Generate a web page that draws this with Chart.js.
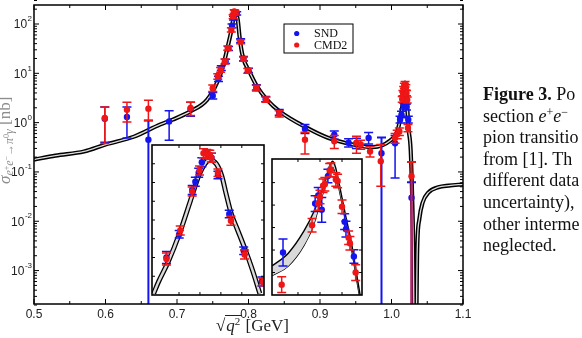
<!DOCTYPE html>
<html>
<head>
<meta charset="utf-8">
<script src="https://cdn.jsdelivr.net/npm/chart.js@4.4.1/dist/chart.umd.min.js"></script>
<style>
  body { margin: 0; width: 582px; height: 338px; overflow: hidden; background: #fff; position: relative; }
  canvas { position: absolute; }
  #main { left: 0; top: 0; }
  #inset1 { left: 148px; top: 141px; }
  #inset2 { left: 268px; top: 155px; }
  #ytitle {
    position: absolute; left: -3px; top: 184px; transform-origin: 0 0; transform: rotate(-90deg);
    font: 17px "Liberation Serif", serif; color: #8c8c8c; white-space: nowrap; line-height: 15px;
  }
  #ytitle sub { font-size: 12px; vertical-align: -3px; line-height: 0; }
  #ytitle sup { font-size: 8px; vertical-align: 4px; line-height: 0; }
  #xtitle {
    position: absolute; left: 216px; top: 317px; font: 17px "Liberation Serif", serif; color: #222;
    white-space: nowrap; line-height: 18px;
  }
  #xtitle .rad { border-top: 1px solid #222; padding: 0 1px; }
  #xtitle sup { font-size: 11px; vertical-align: 6px; line-height: 0; }
  #caption {
    position: absolute; left: 483px; top: 84px; font: 18px "Liberation Serif", serif; color: #111;
    line-height: 21.6px; white-space: nowrap;
  }
  #caption sup { font-size: 12px; vertical-align: 6px; line-height: 0; }
</style>
</head>
<body>
<canvas id="main" width="582" height="338"></canvas>
<canvas id="inset1" width="120" height="158"></canvas>
<canvas id="inset2" width="98" height="144"></canvas>
<div id="ytitle"><i>σ</i><sub><i>e</i><sup>+</sup><i>e</i><sup>−</sup>→<i>π</i><sup>0</sup><i>γ</i></sub> [nb]</div>
<div id="xtitle">√<span class="rad"><i>q</i><sup>2</sup></span> [GeV]</div>
<div id="caption"><b>Figure 3.</b> Po<br>section <i>e</i><sup>+</sup><i>e</i><sup>−</sup><br>pion transitio<br>from [1]. Th<br>different data<br>uncertainty),<br>other interme<br>neglected.</div>
<script>
// axis labels
const xTickLabels = ["0.5", "0.6", "0.7", "0.8", "0.9", "1.0", "1.1"];
const yTickExponents = [-3, -2, -1, 0, 1, 2];

// model curve (main panel)
const curveX = [0.50, 0.53, 0.57, 0.60, 0.64, 0.676, 0.694, 0.718, 0.742, 0.756, 0.764, 0.771, 0.777, 0.780,
  0.782, 0.785, 0.788, 0.792, 0.802, 0.812, 0.826, 0.844, 0.882, 0.91, 0.946, 0.974, 0.998, 1.008, 1.012,
  1.015, 1.018, 1.019, 1.0212, 1.0235, 1.0268, 1.029, 1.0305, 1.033, 1.036, 1.0389, 1.0436, 1.0515, 1.0655,
  1.08, 1.10];
const curveY = [0.178, 0.215, 0.26, 0.36, 0.52, 0.91, 1.15, 1.67, 2.9, 6.5, 13.5, 35, 88, 167,
  178, 121, 48, 22, 10.3, 5.4, 2.9, 1.67, 0.78, 0.5, 0.36, 0.32, 0.43, 0.66, 1.15,
  2.1, 4.7, 6.5, 3.4, 0.84, 0.28, 0.028, 0.0027, 0.000001, 0.0027, 0.011, 0.024, 0.038, 0.049,
  0.053, 0.056];

// SND (main panel)
const sndX = [0.599, 0.630, 0.660, 0.689, 0.719, 0.750, 0.758, 0.762, 0.768, 0.772, 0.777, 0.779, 0.7835,
  0.789, 0.793, 0.800, 0.811, 0.824, 0.843, 0.879, 0.920, 0.940, 0.951, 0.968, 0.986, 1.005, 1.012, 1.014,
  1.017, 1.019, 1.021, 1.0235, 1.028];
const sndY = [1.20, 1.30, 0.45, 1.06, 1.90, 3.5, 7.7, 12.8, 17.5, 32, 92, 132, 165,
  46, 20, 11.5, 5.2, 3.0, 1.62, 0.745, 0.57, 0.39, 0.38, 0.49, 0.24, 0.38, 1.15, 1.45,
  2.2, 2.7, 2.1, 1.15, 0.030];
const sndLo = [0.40, 0.49, 0, 0.44, 1.35, 3.0, 6.8, 11.4, 15.8, 29, 84, 121, 152,
  42, 18, 10.4, 4.6, 2.65, 1.42, 0.60, 0.46, 0.32, 0.30, 0.37, 0, 0.075, 0.98, 1.25,
  1.9, 2.35, 1.8, 0.98, 0];
const sndHi = [2.08, 2.08, 1.11, 1.75, 2.6, 4.1, 8.7, 14.3, 19.3, 35, 100, 143, 178,
  50, 22, 12.7, 5.9, 3.4, 1.85, 0.92, 0.68, 0.47, 0.48, 0.63, 0.50, 0.55, 1.35, 1.7,
  2.5, 3.1, 2.4, 1.35, 0.062];

// CMD2 (main panel)
const cmdX = [0.599, 0.630, 0.660, 0.719, 0.750, 0.757, 0.761, 0.767, 0.771, 0.776, 0.7785, 0.7800, 0.7808,
  0.7815, 0.789, 0.793, 0.799, 0.811, 0.8245, 0.843, 0.879, 0.920, 0.951, 0.957, 0.970, 0.985, 1.005, 1.008,
  1.011, 1.015, 1.016, 1.017, 1.018, 1.019, 1.020, 1.021, 1.022, 1.023, 1.028];
const cmdY = [1.24, 1.83, 1.92, 1.98, 5.0, 8.65, 11.8, 17.4, 32.6, 76, 142, 180, 175,
  166, 44, 19.5, 11.3, 5.0, 2.92, 1.5, 0.45, 0.42, 0.39, 0.36, 0.26, 0.165, 0.49, 0.58,
  0.66, 3.0, 4.0, 4.8, 5.6, 6.0, 5.2, 4.0, 2.9, 0.78, 0.082];
const cmdLo = [0.376, 1.03, 1.11, 1.39, 4.3, 7.6, 10.5, 15.5, 29.5, 69, 130, 165, 161,
  152, 40, 17.5, 10.0, 4.4, 2.6, 1.3, 0.232, 0.30, 0.24, 0.29, 0.20, 0.051, 0.38, 0.47,
  0.55, 2.6, 3.5, 4.2, 4.9, 5.3, 4.6, 3.5, 2.5, 0.65, 0];
const cmdHi = [2.08, 2.58, 2.83, 2.58, 5.8, 9.8, 13.2, 19.5, 36, 84, 155, 195, 190,
  180, 48, 21.5, 12.6, 5.7, 3.3, 1.75, 0.636, 0.55, 0.53, 0.44, 0.33, 0.36, 0.60, 0.70,
  0.78, 3.4, 4.5, 5.4, 6.3, 6.8, 5.9, 4.5, 3.3, 0.92, 0.16];

// inset 1 (omega region, linear)
const in1CurveX = [0.7579, 0.7602, 0.7648, 0.7701, 0.7755, 0.7794, 0.7824, 0.7847, 0.7878, 0.7905, 0.7924,
  0.7950, 0.7978, 0.8017, 0.8050, 0.8086];
const in1CurveY = [2, 17.5, 44, 81, 126, 159, 175, 180, 175, 158, 136, 108, 88, 60, 34, 2];
const in1SndX = [0.7640, 0.7701, 0.7763, 0.7778, 0.7794, 0.7809, 0.7840, 0.7855, 0.7886, 0.7940, 0.8009, 0.8096];
const in1SndY = [50, 81, 140, 151, 163, 177, 187, 183, 160, 108, 59, 18];
const in1SndErr = [8, 5, 6, 6, 6, 6, 6, 6, 5, 5, 5, 6];
const in1CmdX = [0.7640, 0.7706, 0.7763, 0.7798, 0.7817, 0.7832, 0.7847, 0.7855, 0.7886, 0.7948, 0.8013, 0.8101];
const in1CmdY = [48, 86, 138, 166, 189, 188, 187, 183, 163, 99, 54, 17.5];
const in1CmdErr = [8, 6, 6, 6, 6, 6, 6, 6, 5, 6, 6, 5];
const in1XTicks = [0.77, 0.78, 0.79, 0.80];
const in1YTicks = [25, 50, 75, 100, 125, 150, 175];

// inset 2 (phi region, linear)
const in2CurveX = [1.0091, 1.0128, 1.0164, 1.0186, 1.0200, 1.0212, 1.0222, 1.0229, 1.0235, 1.0243, 1.0258,
  1.0272, 1.0283, 1.0292];
const in2Upper = [1.29, 1.86, 2.86, 3.7, 4.4, 5.1, 5.75, 5.95, 5.7, 5.0, 3.55, 2.25, 0.95, -0.1];
const in2Lower = [0.86, 1.29, 2.22, 3.15, 4.1, 4.85, 5.5, 5.7, 5.45, 4.75, 3.3, 2.0, 0.72, -0.3];
const in2SndX = [1.0116, 1.0189, 1.0196, 1.0204, 1.0218, 1.0256, 1.0259, 1.0277];
const in2SndY = [1.89, 4.07, 4.43, 3.79, 5.29, 3.26, 2.93, 1.71];
const in2SndErr = [0.6, 0.35, 0.35, 0.55, 0.3, 0.35, 0.35, 0.3];
const in2CmdX = [1.0113, 1.0182, 1.0196, 1.0200, 1.0207, 1.0211, 1.0222, 1.0225, 1.0236, 1.0240, 1.0250,
  1.0265, 1.0268, 1.0281];
const in2CmdY = [0.46, 3.10, 4.07, 4.36, 4.86, 4.93, 5.55, 5.57, 5.14, 5.07, 3.93, 2.55, 2.3, 1.0];
const in2CmdErr = [0.35, 0.3, 0.3, 0.3, 0.3, 0.3, 0.3, 0.3, 0.3, 0.3, 0.3, 0.3, 0.3, 0.35];
const in2XTicks = [1.015, 1.020, 1.025];
const in2YTicks = [1, 2, 3, 4, 5];

const BLUE = "#1414ee";
const RED = "#ee1616";
const SANS = "'Liberation Sans', Arial, sans-serif";
const SERIF = "'Liberation Serif', 'Times New Roman', serif";

const pts = (xs, ys) => xs.map((x, i) => ({ x, y: ys[i] }));

// vertical error bars with caps, drawn under each dataset's markers
const errorBars = {
  id: "errorBars",
  beforeDatasetDraw(chart, args) {
    const ds = chart.data.datasets[args.index];
    if (!ds.errLo && !ds.err) return;
    const { ctx, chartArea: a, scales: { x, y } } = chart;
    ctx.save();
    ctx.beginPath();
    ctx.rect(a.left, a.top, a.right - a.left, a.bottom - a.top);
    ctx.clip();
    ctx.strokeStyle = ds.borderColor;
    ds.data.forEach((p, i) => {
      const lo = ds.err ? p.y - ds.err[i] : ds.errLo[i];
      const hi = ds.err ? p.y + ds.err[i] : ds.errHi[i];
      const px = x.getPixelForValue(p.x);
      const toBottom = !(lo > 0) && y.type === "logarithmic";
      const pLo = toBottom ? a.bottom + 5 : y.getPixelForValue(lo);
      const pHi = y.getPixelForValue(hi);
      ctx.lineWidth = toBottom ? 2 : 1.5;
      ctx.beginPath();
      ctx.moveTo(px, pLo);
      ctx.lineTo(px, pHi);
      ctx.moveTo(px - 4.5, pHi);
      ctx.lineTo(px + 4.5, pHi);
      if (!toBottom) {
        ctx.moveTo(px - 4.5, pLo);
        ctx.lineTo(px + 4.5, pLo);
      }
      ctx.stroke();
    });
    ctx.restore();
  }
};

// white panel, box and inward ticks
const frame = {
  id: "frame",
  beforeDraw(chart) {
    const { ctx, chartArea: a } = chart;
    ctx.save();
    ctx.fillStyle = "#fff";
    ctx.fillRect(a.left, a.top, a.right - a.left, a.bottom - a.top);
    ctx.restore();
  },
  afterDraw(chart, args, opts) {
    const { ctx, chartArea: a, scales: { x, y } } = chart;
    ctx.save();
    ctx.strokeStyle = "#000";
    ctx.lineWidth = 1;
    ctx.beginPath();
    const xt = (v, len) => {
      const p = x.getPixelForValue(v);
      ctx.moveTo(p, a.bottom); ctx.lineTo(p, a.bottom - len);
      ctx.moveTo(p, a.top); ctx.lineTo(p, a.top + len);
    };
    const yt = (v, len) => {
      const p = y.getPixelForValue(v);
      ctx.moveTo(a.left, p); ctx.lineTo(a.left + len, p);
      ctx.moveTo(a.right, p); ctx.lineTo(a.right - len, p);
    };
    (opts.xMajor || []).forEach(v => xt(v, opts.majorLen));
    (opts.xMinor || []).forEach(v => xt(v, opts.minorLen));
    (opts.yMajor || []).forEach(v => yt(v, opts.majorLen));
    (opts.yMinor || []).forEach(v => yt(v, opts.minorLen));
    ctx.stroke();
    ctx.lineWidth = opts.frameWidth;
    ctx.strokeRect(a.left, a.top, a.right - a.left, a.bottom - a.top);
    ctx.restore();
  }
};

// tick labels and legend of the main panel
const mainText = {
  id: "mainText",
  afterDraw(chart) {
    const { ctx, chartArea: a, scales: { x, y } } = chart;
    ctx.save();
    ctx.fillStyle = "#222";
    ctx.textBaseline = "middle";
    ctx.textAlign = "center";
    ctx.font = "12px " + SANS;
    xTickLabels.forEach(t => ctx.fillText(t, x.getPixelForValue(parseFloat(t)), a.bottom + 11));
    ctx.textAlign = "right";
    yTickExponents.forEach(e => {
      const py = y.getPixelForValue(Math.pow(10, e));
      const sup = String(e);
      ctx.font = "8px " + SANS;
      const w = ctx.measureText(sup).width;
      ctx.fillText(sup, a.left - 2, py - 5);
      ctx.font = "12px " + SANS;
      ctx.fillText("10", a.left - 2.5 - w, py + 1);
    });

    // legend box
    const lx = a.left + 250, ly = a.top + 19;
    ctx.fillStyle = "#fff";
    ctx.fillRect(lx, ly, 69, 29);
    ctx.strokeStyle = "#000";
    ctx.lineWidth = 1;
    ctx.strokeRect(lx, ly, 69, 29);
    const entries = chart.data.datasets.filter(d => d.label);
    ctx.font = "12px " + SERIF;
    ctx.textAlign = "left";
    entries.forEach((d, i) => {
      const ry = ly + 9.5 + i * 11.5;
      ctx.fillStyle = d.backgroundColor;
      ctx.beginPath();
      ctx.arc(lx + 12.7, ry, 2.6, 0, Math.PI * 2);
      ctx.fill();
      ctx.fillStyle = "#111";
      ctx.fillText(d.label, lx + 30, ry + 0.5);
    });
    ctx.restore();
  }
};

const xMajor = xTickLabels.map(parseFloat);
const xMinor = xMajor.slice(1).map((v, i) => (v + xMajor[i]) / 2);
const yMajor = yTickExponents.map(e => Math.pow(10, e));
const yMinor = [];
[-4, -3, -2, -1, 0, 1, 2].forEach(e => {
  for (let k = 2; k <= 9; k++) yMinor.push(k * Math.pow(10, e));
});

const markerSet = (label, xs, ys, color, order, extra) => Object.assign({
  label,
  data: pts(xs, ys),
  borderColor: color,
  backgroundColor: color,
  pointRadius: 3.2,
  pointBorderWidth: 0,
  showLine: false,
  order
}, extra);

const lineSet = (xs, ys, color, width, order) => ({
  data: pts(xs, ys),
  borderColor: color,
  borderWidth: width,
  pointRadius: 0,
  showLine: true,
  fill: false,
  cubicInterpolationMode: "monotone",
  order
});

const baseOptions = (padding, xr, yr, frameOpts) => ({
  responsive: false,
  animation: false,
  events: [],
  devicePixelRatio: 1,
  layout: { padding },
  plugins: { legend: { display: false }, tooltip: { enabled: false }, frame: frameOpts },
  scales: {
    x: Object.assign({ type: "linear", display: false }, xr),
    y: Object.assign({ display: false }, yr)
  }
});

function renderMain() {
  new Chart(document.getElementById("main"), {
    type: "scatter",
    data: {
      datasets: [
        markerSet("SND", sndX, sndY, BLUE, 2, { errLo: sndLo, errHi: sndHi }),
        markerSet("CMD2", cmdX, cmdY, RED, 1, { errLo: cmdLo, errHi: cmdHi }),
        lineSet(curveX, curveY, "#000", 4.2, 4),
        lineSet(curveX, curveY, "#dddddd", 1.3, 3)
      ]
    },
    options: baseOptions(
      { left: 34, top: 5, right: 119, bottom: 34 },
      { min: 0.5, max: 1.1 },
      { type: "logarithmic", min: 0.00021, max: 243 },
      { xMajor, xMinor, yMajor, yMinor, majorLen: 5, minorLen: 3, frameWidth: 1.5 }
    ),
    plugins: [frame, errorBars, mainText]
  });
}

function renderInset1() {
  new Chart(document.getElementById("inset1"), {
    type: "scatter",
    data: {
      datasets: [
        markerSet("", in1SndX, in1SndY, BLUE, 2, { err: in1SndErr }),
        markerSet("", in1CmdX, in1CmdY, RED, 1, { err: in1CmdErr }),
        lineSet(in1CurveX, in1CurveY, "#000", 5, 4),
        lineSet(in1CurveX, in1CurveY, "#d9d9d9", 2.4, 3)
      ]
    },
    options: baseOptions(
      2,
      { min: 0.7571, max: 0.8106 },
      { type: "linear", min: 0, max: 200 },
      { xMajor: in1XTicks, yMajor: in1YTicks, majorLen: 3, minorLen: 2, frameWidth: 1.6 }
    ),
    plugins: [frame, errorBars]
  });
}

function renderInset2() {
  const lower = lineSet(in2CurveX, in2Lower, "#000", 1.4, 4);
  const upper = lineSet(in2CurveX, in2Upper, "#000", 1.4, 3);
  upper.fill = "-1";
  upper.backgroundColor = "#d9d9d9";
  new Chart(document.getElementById("inset2"), {
    type: "scatter",
    data: {
      datasets: [
        lower,
        upper,
        markerSet("", in2SndX, in2SndY, BLUE, 2, { err: in2SndErr }),
        markerSet("", in2CmdX, in2CmdY, RED, 1, { err: in2CmdErr })
      ]
    },
    options: baseOptions(
      2,
      { min: 1.0091, max: 1.02954 },
      { type: "linear", min: 0, max: 6.05 },
      { xMajor: in2XTicks, yMajor: in2YTicks, majorLen: 3, minorLen: 2, frameWidth: 1.6 }
    ),
    plugins: [frame, errorBars]
  });
}

renderMain();
renderInset1();
renderInset2();
</script>
</body>
</html>
